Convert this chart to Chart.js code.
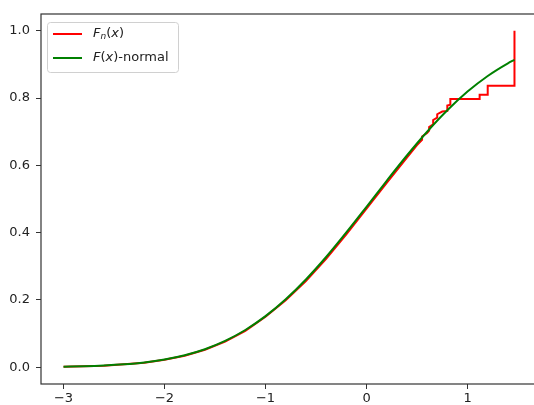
<!DOCTYPE html>
<html lang="en">
<head>
    <meta charset="UTF-8">
    <title>Empirical vs normal CDF</title>
    <script src="https://cdn.jsdelivr.net/npm/chart.js"></script>
    <style>
        body {
            margin: 0;
            background: #ffffff;
        }
        .chart-box {
            width: 534px;
            height: 405px;
            overflow: hidden;
        }
    </style>
</head>
<body>
    <div class="chart-box">
        <canvas id="cdfChart" width="537" height="405"></canvas>
    </div>

    <script>
        // tick positions
        const xTicks = [-3, -2, -1, 0, 1];
        const yTicks = [0, 0.2, 0.4, 0.6, 0.8, 1.0];

        // F(x)-normal
        const normalX = [-3.0, -2.8, -2.6, -2.4, -2.2, -2.0, -1.8, -1.6, -1.4, -1.2, -1.0, -0.8,
                         -0.6, -0.4, -0.2, 0.0, 0.2, 0.4, 0.6, 0.8, 1.0, 1.2, 1.4, 1.465];
        const normalY = [0.0015, 0.0027, 0.0049, 0.0085, 0.0141, 0.0228, 0.0355, 0.0535, 0.0782, 0.1106, 0.1517, 0.2019,
                         0.2608, 0.3275, 0.4005, 0.4768, 0.5541, 0.6293, 0.6999, 0.7637, 0.8193, 0.8658, 0.9034, 0.9137];

        // Fn(x), the red empirical step curve
        const ecdfX = [-3.0, -2.6, -2.2, -2.0, -1.8, -1.6, -1.4, -1.2, -1.0, -0.8, -0.6, -0.4, -0.2, 0.0, 0.2, 0.4,
                       0.5, 0.55, 0.55, 0.6, 0.62, 0.62, 0.66, 0.66, 0.70, 0.70, 0.75, 0.80, 0.80, 0.83, 0.83,
                       1.12, 1.12, 1.20, 1.20, 1.465, 1.465];
        const ecdfY = [0.001, 0.004, 0.013, 0.022, 0.034, 0.052, 0.076, 0.108, 0.150, 0.199, 0.256, 0.322, 0.395, 0.471, 0.548, 0.623,
                       0.660, 0.676, 0.686, 0.696, 0.703, 0.714, 0.722, 0.735, 0.742, 0.752, 0.760, 0.762, 0.778, 0.780, 0.797,
                       0.797, 0.810, 0.810, 0.837, 0.837, 1.0];

        const FONT = '"DejaVu Sans", sans-serif';

        // frame + legend drawn by hand (mixed italic / subscript text)
        const framePlugin = {
            id: 'frame',
            afterDraw(chart) {
                const { ctx, chartArea: a } = chart;
                ctx.save();
                ctx.strokeStyle = '#333';
                ctx.lineWidth = 1.2;
                ctx.strokeRect(a.left, a.top, a.right - a.left, a.bottom - a.top);

                // legend box
                const bx = 47, by = 22, bw = 131, bh = 50, r = 3;
                ctx.fillStyle = 'rgba(255,255,255,0.8)';
                ctx.strokeStyle = '#d0d0d0';
                ctx.lineWidth = 1;
                ctx.beginPath();
                ctx.roundRect(bx + 0.5, by + 0.5, bw, bh, r);
                ctx.fill();
                ctx.stroke();

                const rows = [
                    { color: '#ff0000', y: 34, runs: [
                        { t: 'F', f: 'italic 13px ' + FONT },
                        { t: 'n', f: 'italic 9px ' + FONT, dy: 3 },
                        { t: '(', f: '13px ' + FONT },
                        { t: 'x', f: 'italic 13px ' + FONT },
                        { t: ')', f: '13px ' + FONT }
                    ] },
                    { color: '#008000', y: 58, runs: [
                        { t: 'F', f: 'italic 13px ' + FONT },
                        { t: '(', f: '13px ' + FONT },
                        { t: 'x', f: 'italic 13px ' + FONT },
                        { t: ')', f: '13px ' + FONT },
                        { t: '-normal', f: '13px ' + FONT }
                    ] }
                ];
                rows.forEach(row => {
                    ctx.strokeStyle = row.color;
                    ctx.lineWidth = 2;
                    ctx.beginPath();
                    ctx.moveTo(53, row.y);
                    ctx.lineTo(82, row.y);
                    ctx.stroke();
                    let x = 93;
                    ctx.fillStyle = '#222';
                    ctx.textBaseline = 'middle';
                    row.runs.forEach(run => {
                        ctx.font = run.f;
                        ctx.fillText(run.t, x, row.y + (run.dy || 0));
                        x += ctx.measureText(run.t).width;
                    });
                });
                ctx.restore();
            }
        };

        const ctx = document.getElementById('cdfChart').getContext('2d');

        new Chart(ctx, {
            type: 'scatter',
            data: {
                datasets: [
                    {
                        label: 'F(x)-normal',
                        data: normalX.map((x, i) => ({ x: x, y: normalY[i] })),
                        showLine: true,
                        borderColor: '#008000',
                        borderWidth: 2,
                        pointRadius: 0,
                        cubicInterpolationMode: 'monotone',
                        order: 0
                    },
                    {
                        label: 'Fn(x)',
                        data: ecdfX.map((x, i) => ({ x: x, y: ecdfY[i] })),
                        showLine: true,
                        borderColor: '#ff0000',
                        borderWidth: 2,
                        pointRadius: 0,
                        order: 1
                    }
                ]
            },
            options: {
                responsive: false,
                animation: false,
                layout: { padding: { top: 14, left: 0, right: 0, bottom: 0 } },
                plugins: {
                    legend: { display: false },
                    tooltip: { enabled: false }
                },
                scales: {
                    x: {
                        min: -3.223,
                        max: 1.688,
                        afterFit: s => { s.height = 21; },
                        afterBuildTicks: s => { s.ticks = xTicks.map(v => ({ value: v })); },
                        grid: { drawOnChartArea: false, drawTicks: true, tickLength: 5, color: '#333' },
                        border: { display: false },
                        ticks: {
                            padding: 2,
                            color: '#222',
                            font: { family: FONT, size: 13 },
                            callback: v => (v < 0 ? '\u2212' + Math.abs(v) : String(v))
                        }
                    },
                    y: {
                        min: -0.05,
                        max: 1.05,
                        afterFit: s => { s.width = 41; },
                        afterBuildTicks: s => { s.ticks = yTicks.map(v => ({ value: v })); },
                        grid: { drawOnChartArea: false, drawTicks: true, tickLength: 5, color: '#333' },
                        border: { display: false },
                        ticks: {
                            padding: 6,
                            color: '#222',
                            font: { family: FONT, size: 13 },
                            callback: v => v.toFixed(1)
                        }
                    }
                }
            },
            plugins: [framePlugin]
        });
    </script>
</body>
</html>
